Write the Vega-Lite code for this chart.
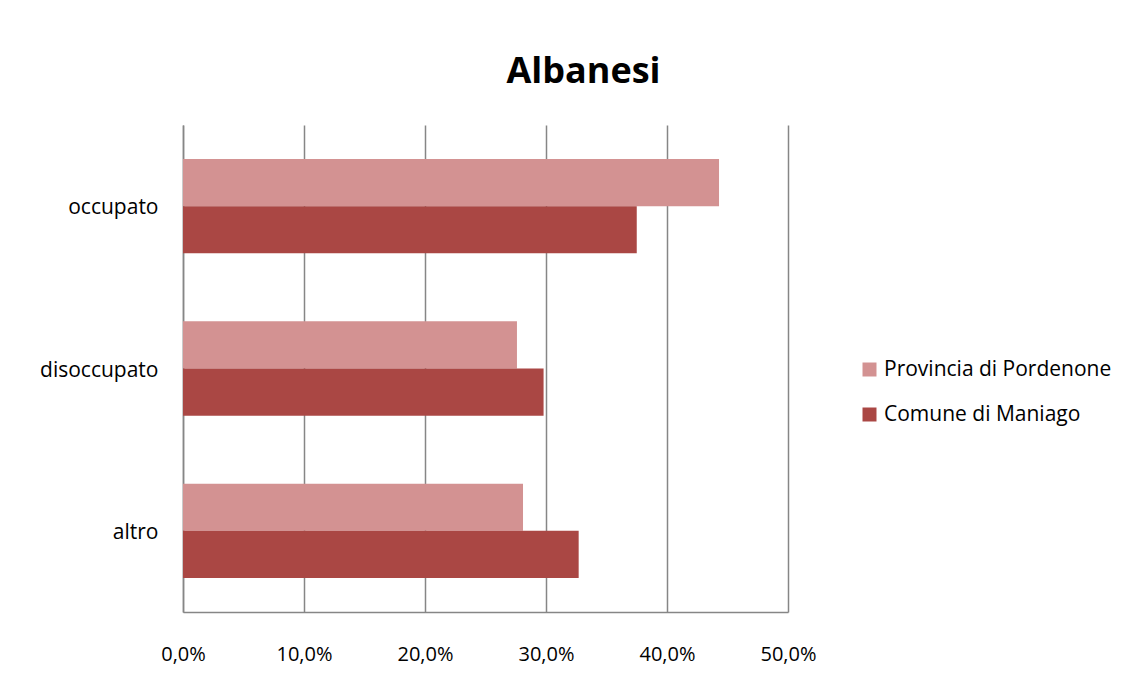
{
  "$schema": "https://vega.github.io/schema/vega-lite/v6.json",
  "autosize": {"type": "none"},
  "width": 605,
  "height": 487,
  "padding": {"left": 183, "top": 125, "right": 359, "bottom": 66},
  "background": "white",
  "config": {
    "locale": {"number": {"decimal": ",", "thousands": ".", "grouping": [3], "currency": ["€", ""]}},
    "font": "Open Sans",
    "view": {"stroke": null}
  },
  "title": {
    "text": "Albanesi",
    "fontSize": 36,
    "fontWeight": "bold",
    "font": "Open Sans",
    "color": "#000000",
    "anchor": "middle",
    "dx": 98,
    "offset": -2,
    "baseline": "bottom"
  },
  "data": {
    "values": [
      {"categoria": "occupato", "serie": "Provincia di Pordenone", "valore": 0.443},
      {"categoria": "occupato", "serie": "Comune di Maniago", "valore": 0.375},
      {"categoria": "disoccupato", "serie": "Provincia di Pordenone", "valore": 0.276},
      {"categoria": "disoccupato", "serie": "Comune di Maniago", "valore": 0.298},
      {"categoria": "altro", "serie": "Provincia di Pordenone", "valore": 0.281},
      {"categoria": "altro", "serie": "Comune di Maniago", "valore": 0.327}
    ]
  },
  "mark": {"type": "bar"},
  "encoding": {
    "y": {
      "field": "categoria",
      "type": "nominal",
      "sort": ["occupato", "disoccupato", "altro"],
      "scale": {"paddingInner": 0, "paddingOuter": 0},
      "axis": {
        "title": null,
        "labelFontSize": 21,
        "labelColor": "#000000",
        "labelPadding": 25,
        "labelOffset": 2,
        "ticks": false,
        "domainColor": "#868686",
        "domainWidth": 1.5,
        "grid": false
      }
    },
    "yOffset": {
      "field": "serie",
      "type": "nominal",
      "sort": ["Provincia di Pordenone", "Comune di Maniago"],
      "scale": {"paddingInner": 0, "paddingOuter": 0.72}
    },
    "x": {
      "field": "valore",
      "type": "quantitative",
      "scale": {"domain": [0, 0.5], "nice": false},
      "axis": {
        "title": null,
        "format": ".1%",
        "values": [0, 0.1, 0.2, 0.3, 0.4, 0.5],
        "labelFontSize": 20,
        "labelColor": "#000000",
        "labelPadding": 32,
        "labelFlush": false,
        "labelAlign": "center",
        "ticks": false,
        "domainColor": "#868686",
        "domainWidth": 1.5,
        "grid": true,
        "gridColor": "#868686",
        "gridWidth": 1.5
      }
    },
    "color": {
      "field": "serie",
      "type": "nominal",
      "sort": ["Provincia di Pordenone", "Comune di Maniago"],
      "scale": {"domain": ["Provincia di Pordenone", "Comune di Maniago"], "range": ["#D39292", "#AA4744"]},
      "legend": {
        "title": null,
        "orient": "none",
        "legendX": 676,
        "legendY": 234,
        "symbolType": "square",
        "symbolSize": 196,
        "symbolStrokeWidth": 0,
        "labelFontSize": 21,
        "labelLimit": 0,
        "labelColor": "#000000",
        "labelOffset": 4,
        "rowPadding": 23
      }
    }
  }
}
